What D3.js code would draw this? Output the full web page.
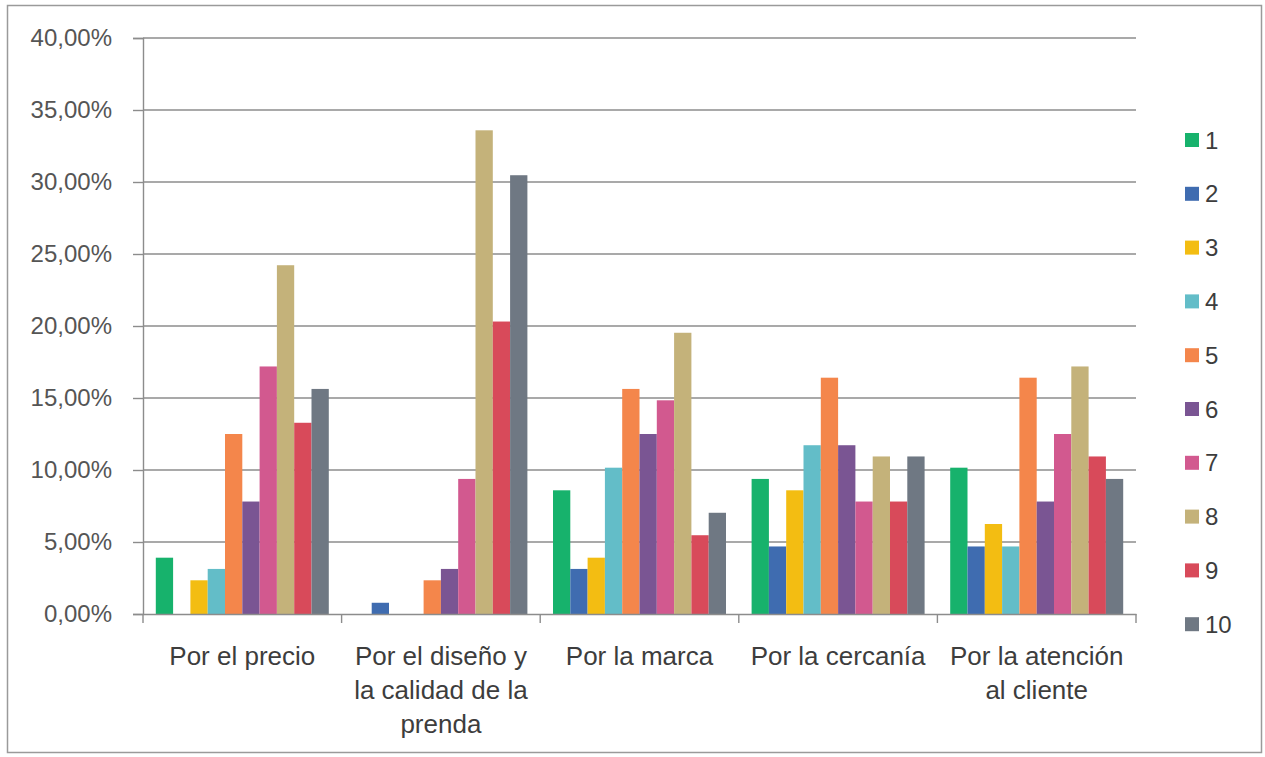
<!DOCTYPE html>
<html>
<head>
<meta charset="utf-8">
<script src="https://cdn.jsdelivr.net/npm/d3@7"></script>
<style>
  html, body { margin: 0; padding: 0; background: #fff; }
  svg { display: block; }
  text { font-family: "Liberation Sans", Arial, sans-serif; }
</style>
</head>
<body>
<svg id="chart" width="1265" height="757"></svg>
<script>
// Survey categories (reasons) and their wrapped label lines
const categories = [
  "Por el precio",
  "Por el diseño y la calidad de la prenda",
  "Por la marca",
  "Por la cercanía",
  "Por la atención al cliente"
];
const categoryLines = [
  ["Por el precio"],
  ["Por el diseño y", "la calidad de la", "prenda"],
  ["Por la marca"],
  ["Por la cercanía"],
  ["Por la atención", "al cliente"]
];

// Rating series 1..10
const seriesNames = ["1", "2", "3", "4", "5", "6", "7", "8", "9", "10"];
const seriesColors = ["#17b26c", "#3f6cb0", "#f3bd12", "#63bdc8", "#f4864b",
                      "#7a5593", "#d2598f", "#c4b27a", "#d84a5a", "#6f7883"];

// Percentages per category, one entry per rating 1..10
const precio    = [3.91, 0.00, 2.34, 3.13, 12.50, 7.81, 17.19, 24.22, 13.28, 15.63];
const diseno    = [0.00, 0.78, 0.00, 0.00, 2.34, 3.13, 9.38, 33.59, 20.31, 30.47];
const marca     = [8.59, 3.13, 3.91, 10.16, 15.63, 12.50, 14.84, 19.53, 5.47, 7.03];
const cercania  = [9.38, 4.69, 8.59, 11.72, 16.41, 11.72, 7.81, 10.94, 7.81, 10.94];
const atencion  = [10.16, 4.69, 6.25, 4.69, 16.41, 7.81, 12.50, 17.19, 10.94, 9.38];
const values = [precio, diseno, marca, cercania, atencion];

const yTicks = [0, 5, 10, 15, 20, 25, 30, 35, 40];
const fmt = v => v.toFixed(2).replace(".", ",") + "%";

const svg = d3.select("#chart");

// outer chart frame
svg.append("rect")
  .attr("x", 7.5).attr("y", 5.5)
  .attr("width", 1254).attr("height", 747)
  .attr("fill", "#fff").attr("stroke", "#9a9a9a").attr("stroke-width", 1.5);

const plot = { left: 143, right: 1136, top: 38, bottom: 614 };

const x0 = d3.scaleBand()
  .domain(categories)
  .range([plot.left, plot.right])
  .paddingInner(0).paddingOuter(0);

const x1 = d3.scaleBand()
  .domain(seriesNames)
  .range([0, x0.bandwidth()])
  .paddingInner(0).paddingOuter(0.74);

const y = d3.scaleLinear().domain([0, 40]).range([plot.bottom, plot.top]);

// horizontal gridlines
svg.append("g")
  .selectAll("line")
  .data(yTicks.filter(t => t > 0))
  .join("line")
  .attr("x1", plot.left).attr("x2", plot.right)
  .attr("y1", d => y(d)).attr("y2", d => y(d))
  .attr("stroke", "#8c8c8c").attr("stroke-width", 1.4);

// bars
const groups = svg.append("g")
  .selectAll("g")
  .data(categories)
  .join("g")
  .attr("transform", d => `translate(${x0(d)},0)`);

groups.selectAll("rect")
  .data((d, i) => values[i].map((v, j) => ({ key: seriesNames[j], v, c: seriesColors[j] })))
  .join("rect")
  .attr("x", d => x1(d.key))
  .attr("width", x1.bandwidth())
  .attr("y", d => y(d.v))
  .attr("height", d => y(0) - y(d.v))
  .attr("fill", d => d.c);

// y axis
const yAxis = d3.axisLeft(y)
  .tickValues(yTicks)
  .tickFormat(fmt)
  .tickSize(10)
  .tickPadding(21);
const gy = svg.append("g")
  .attr("transform", `translate(${plot.left},0)`)
  .call(yAxis);
gy.select(".domain").attr("stroke", "#8c8c8c").attr("stroke-width", 1.4);
gy.selectAll(".tick line").attr("stroke", "#8c8c8c").attr("stroke-width", 1.4);
gy.selectAll(".tick text")
  .attr("font-size", 24)
  .attr("fill", "#555")
  .style("font-family", "'Liberation Sans', Arial, sans-serif");

// x axis: baseline with ticks at the category boundaries
const gx = svg.append("g")
  .attr("transform", `translate(0,${plot.bottom})`)
  .call(d3.axisBottom(x0).tickSize(0).tickFormat(""));
gx.select(".domain").attr("stroke", "#8c8c8c").attr("stroke-width", 1.4);
gx.selectAll(".tick").remove();

const bounds = categories.map(c => x0(c)).concat([x0(categories[categories.length - 1]) + x0.bandwidth()]);
gx.selectAll("line.bound")
  .data(bounds)
  .join("line")
  .attr("class", "bound")
  .attr("x1", d => d).attr("x2", d => d)
  .attr("y1", 0).attr("y2", 9)
  .attr("stroke", "#8c8c8c").attr("stroke-width", 1.4);

// category labels
const lbl = svg.append("g")
  .selectAll("text")
  .data(categories)
  .join("text")
  .attr("x", d => x0(d) + x0.bandwidth() / 2)
  .attr("y", 665)
  .attr("text-anchor", "middle")
  .attr("font-size", 26)
  .attr("fill", "#3d3d3d");
lbl.each(function (d, i) {
  d3.select(this).selectAll("tspan")
    .data(categoryLines[i])
    .join("tspan")
    .attr("x", x0(d) + x0.bandwidth() / 2)
    .attr("dy", (t, k) => k === 0 ? 0 : 34)
    .text(t => t);
});

// legend
const legend = svg.append("g")
  .selectAll("g")
  .data(seriesNames)
  .join("g")
  .attr("transform", (d, i) => `translate(1185,${140 + i * 53.8})`);
legend.append("rect")
  .attr("x", 0).attr("y", -7)
  .attr("width", 14).attr("height", 14)
  .attr("fill", (d, i) => seriesColors[i]);
legend.append("text")
  .attr("x", 20).attr("y", 0)
  .attr("dy", "0.36em")
  .attr("font-size", 24)
  .attr("fill", "#3d3d3d")
  .text(d => d);
</script>
</body>
</html>
